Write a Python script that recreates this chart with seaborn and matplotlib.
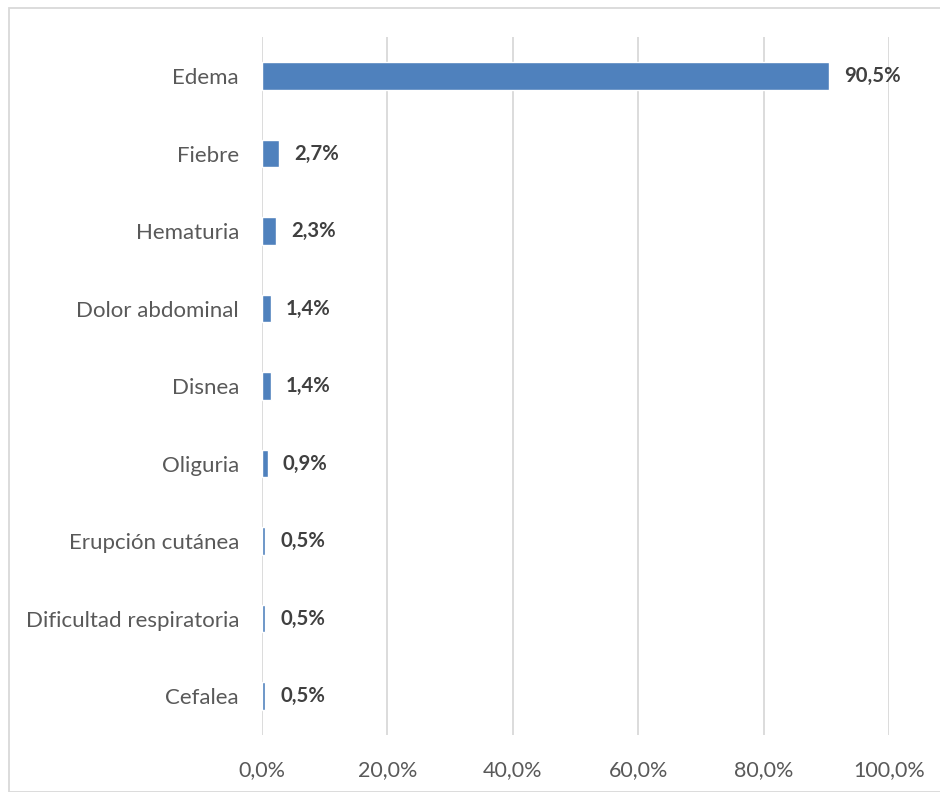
import matplotlib
matplotlib.use("Agg")
import matplotlib.pyplot as plt
import seaborn as sns
import pandas as pd
from matplotlib.patches import Rectangle

categories = ["Edema", "Fiebre", "Hematuria", "Dolor abdominal", "Disnea",
              "Oliguria", "Erupción cutánea", "Dificultad respiratoria", "Cefalea"]
values = [90.5, 2.7, 2.3, 1.4, 1.4, 0.9, 0.5, 0.5, 0.5]
xticks = [0, 20, 40, 60, 80, 100]

df = pd.DataFrame({"cat": categories, "val": values})

sns.set_style("white")
plt.rcParams['font.family'] = ['Lato', 'DejaVu Sans']

W, H = 940, 792
fig = plt.figure(figsize=(W / 100, H / 100), dpi=100)
ax = fig.add_axes([262 / W, 1 - 735 / H, (889 - 262) / W, (735 - 37.25) / H])

sns.barplot(data=df, y="cat", x="val", color="#4F81BD", width=0.355,
            orient="h", ax=ax, saturation=1, zorder=3)

ax.set_xlim(0, 100)
ax.set_ylim(8.5, -0.5)
ax.set_xticks(xticks)
ax.set_xticklabels([f"{t:.1f}%".replace(".", ",") for t in xticks])
ax.set_xlabel("")
ax.set_ylabel("")
ax.grid(axis="x", color="#D9D9D9", linewidth=1.3, zorder=0)
ax.grid(axis="y", visible=False)
for s in ax.spines.values():
    s.set_visible(False)
ax.tick_params(axis="both", length=0, labelcolor="#595959")
ax.tick_params(axis="x", pad=18, labelsize=15.5)
ax.tick_params(axis="y", pad=16.5, labelsize=16)

for i, v in enumerate(values):
    ax.text(v + 2.4, i, f"{v:.1f}%".replace(".", ","), va="center", ha="left",
            fontsize=14.6, fontweight="bold", color="#404040")

fig.patches.append(Rectangle((9 / W, 0), 1.2, 1 - 8 / H, transform=fig.transFigure,
                             fill=False, edgecolor="#D9D9D9", linewidth=1.3))

fig.savefig("out.png", dpi=100, facecolor="white")
